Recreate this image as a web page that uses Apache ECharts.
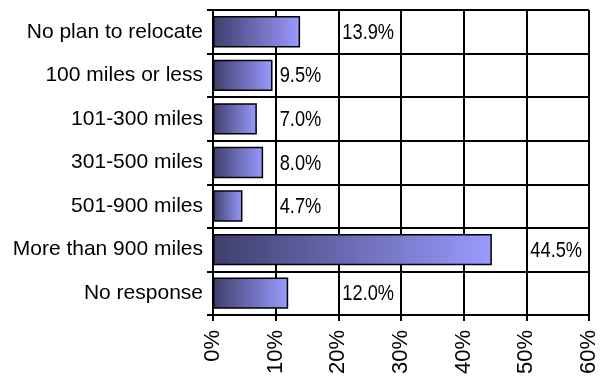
<!DOCTYPE html>
<html>
<head>
<meta charset="utf-8">
<style>
  html, body { margin: 0; padding: 0; background: #fff; }
  #chart { width: 600px; height: 377px; }
</style>
<script src="https://cdn.jsdelivr.net/npm/echarts@6/dist/echarts.min.js"></script>
</head>
<body>
<div id="chart"></div>
<script>
// Relocation distance survey, share of respondents (%)
const categories = [
  'No plan to relocate',
  '100 miles or less',
  '101-300 miles',
  '301-500 miles',
  '501-900 miles',
  'More than 900 miles',
  'No response'
];
const shares = [13.9, 9.5, 7.0, 8.0, 4.7, 44.5, 12.0];
const axisTicks = [0, 10, 20, 30, 40, 50, 60];

// Each value label sits at the start of the grid cell following its bar end
const labelAnchors = shares.map((v, i) => [Math.ceil(v / 10) * 10, i, v]);

const barGradient = new echarts.graphic.LinearGradient(0, 0, 1, 0, [
  { offset: 0, color: '#3e3e6c' },
  { offset: 1, color: '#9a9aff' }
]);

const chart = echarts.init(document.getElementById('chart'), null, { renderer: 'canvas' });
chart.setOption({
  animation: false,
  backgroundColor: '#ffffff',
  grid: { left: 213, top: 10, right: 8, bottom: 60, containLabel: false },
  xAxis: {
    type: 'value',
    min: axisTicks[0],
    max: axisTicks[axisTicks.length - 1],
    interval: 10,
    axisLine: { show: true, lineStyle: { color: '#000', width: 2 } },
    axisTick: { show: true, length: 6, lineStyle: { color: '#000', width: 2 } },
    splitLine: { show: true, lineStyle: { color: '#000', width: 2 } },
    axisLabel: {
      rotate: 90,
      margin: 15,
      color: '#000',
      fontFamily: 'Liberation Sans, Arial, sans-serif',
      fontSize: 22,
      formatter: v => v + '%'
    }
  },
  yAxis: {
    type: 'category',
    data: categories,
    inverse: true,
    axisLine: { show: true, lineStyle: { color: '#000', width: 2 } },
    axisTick: { show: true, length: 6, lineStyle: { color: '#000', width: 2 } },
    splitLine: { show: true, lineStyle: { color: '#000', width: 2 } },
    axisLabel: {
      margin: 10,
      color: '#000',
      fontFamily: 'Liberation Sans, Arial, sans-serif',
      fontSize: 21
    }
  },
  series: [
    {
      type: 'bar',
      data: shares,
      barCategoryGap: '28%',
      itemStyle: { color: barGradient, borderColor: '#000', borderWidth: 1.5 }
    },
    {
      // value labels, drawn in a horizontally condensed face
      type: 'custom',
      data: labelAnchors,
      encode: { x: 0, y: 1 },
      silent: true,
      renderItem: (params, api) => {
        const pt = api.coord([api.value(0), api.value(1)]);
        return {
          type: 'text',
          x: pt[0] + 4,
          y: pt[1] + 1,
          scaleX: 0.83,
          style: {
            text: api.value(2).toFixed(1) + '%',
            fill: '#000',
            fontSize: 22,
            fontFamily: 'Liberation Sans, Arial, sans-serif',
            align: 'left',
            verticalAlign: 'middle'
          }
        };
      }
    }
  ]
});
</script>
</body>
</html>
